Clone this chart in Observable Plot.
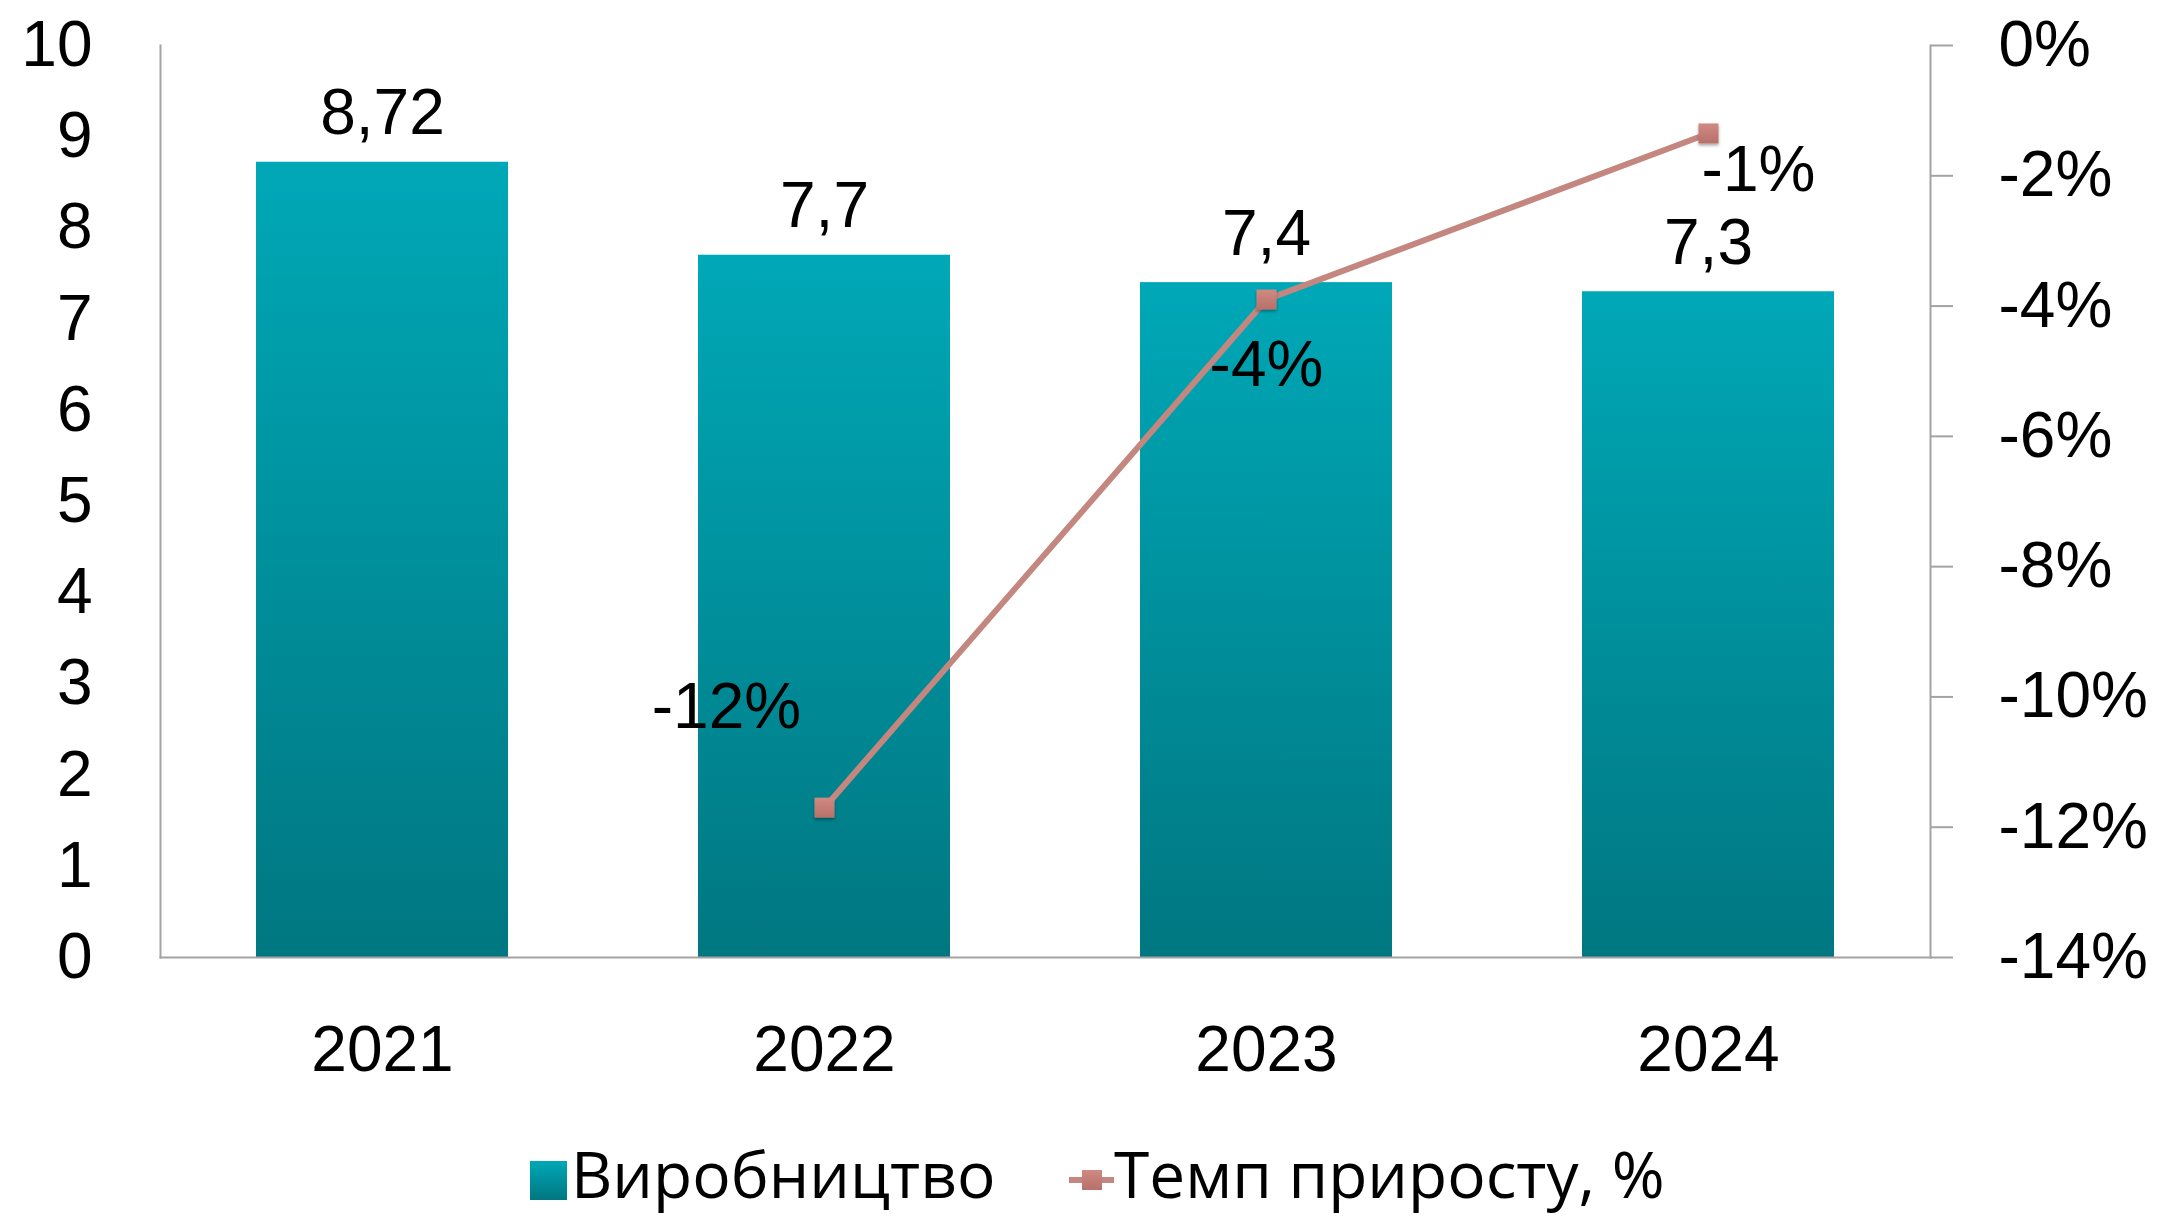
<!DOCTYPE html>
<html>
<head>
<meta charset="utf-8">
<script src="https://cdn.jsdelivr.net/npm/d3@7"></script>
<script src="https://cdn.jsdelivr.net/npm/@observablehq/plot@0.6"></script>
<style>
  html, body { margin: 0; padding: 0; background: #fff; }
  #wrap { width: 2159px; height: 1221px; overflow: hidden; position: relative; }
  #legend { position: relative; height: 101px; width: 2159px; font-family: "Open Sans", "Noto Sans", sans-serif; font-size: 63px; color: #000; }
  #legend .txt { position: absolute; line-height: 1; white-space: nowrap; }
</style>
</head>
<body>
<div id="wrap">
  <div id="chart"></div>
  <div id="legend"></div>
</div>
<script>
// ---- data ----
const years = ["2021", "2022", "2023", "2024"];
const production = [8.72, 7.7, 7.4, 7.3];
const growth = [null, -11.7, -3.9, -1.35];           // % growth rate
const leftTicks = [0, 1, 2, 3, 4, 5, 6, 7, 8, 9, 10];
const pctTicks = [0, -2, -4, -6, -8, -10, -12, -14];
const seriesNames = ["Виробництво", "Темп приросту, %"];

// label placement for the growth-rate labels (pixel offsets from point)
const growthLabelOffsets = [null, [-98, -100], [0, 66], [50, 37]];

// ---- styling ----
const barTop = "#00a8b7", barBottom = "#007781";
const lineColor = "#c4877f", markerColor = "#c27a72";
const axisColor = "#a3a3a3";

// secondary axis mapping: -14%..0%  ->  0..10
const pctMin = -14, pctMax = 0;
const toY = p => (p - pctMin) / (pctMax - pctMin) * 10;
const fromY = y => Math.round(y / 10 * (pctMax - pctMin) + pctMin);

const bars = years.map((y, i) => ({year: y, value: production[i]}));
const line = years.map((y, i) => ({year: y, pct: growth[i]})).filter(d => d.pct != null);
const fmtComma = v => String(v).replace(".", ",");

const labelMarks = years.map((y, i) => {
  if (growth[i] == null) return null;
  const [dx, dy] = growthLabelOffsets[i];
  return Plot.text([{year: y, pct: growth[i]}], {
    x: "year", y: d => toY(d.pct), text: d => Math.round(d.pct) + "%",
    dx, dy, textAnchor: "middle", lineAnchor: "middle", fill: "#000"
  });
}).filter(Boolean);

const chart = Plot.plot({
  width: 2159,
  height: 1120,
  marginTop: 45,
  marginBottom: 163,
  marginLeft: 160,
  marginRight: 229,
  style: {fontFamily: "'Liberation Sans', Arial, sans-serif", fontSize: "64px", color: "#000", background: "#fff", overflow: "visible"},
  x: {type: "band", domain: years, paddingInner: 0.43, paddingOuter: 0.215},
  y: {domain: [0, 10]},
  marks: [
    Plot.barY(bars, {x: "year", y: "value", fill: "url(#barGrad)"}),
    Plot.frame({anchor: "left", stroke: axisColor, strokeWidth: 2}),
    Plot.frame({anchor: "right", stroke: axisColor, strokeWidth: 2}),
    Plot.frame({anchor: "bottom", stroke: axisColor, strokeWidth: 2}),
    Plot.axisY({anchor: "left", ticks: leftTicks, tickSize: 0, tickPadding: 68, tickFormat: d => String(d), label: null}),
    Plot.axisY({anchor: "right", ticks: pctTicks.map(toY), tickSize: 22, tickPadding: 46, stroke: axisColor, strokeWidth: 2, tickFormat: t => fromY(t) + "%", label: null}),
    Plot.axisX({anchor: "bottom", tickSize: 0, tickPadding: 68, label: null}),
    Plot.text(bars, {x: "year", y: "value", text: d => fmtComma(d.value), dy: -28, lineAnchor: "bottom", fill: "#000"}),
    Plot.line(line, {x: "year", y: d => toY(d.pct), stroke: lineColor, strokeWidth: 6}),
    Plot.dot(line, {x: "year", y: d => toY(d.pct), symbol: "square", r: 11.3, fill: markerColor, stroke: "none"}),
    ...labelMarks
  ]
});

// gradient + shadow defs
const ns = "http://www.w3.org/2000/svg";
const defs = document.createElementNS(ns, "defs");
defs.innerHTML = `
  <linearGradient id="barGrad" x1="0" y1="0" x2="0" y2="1">
    <stop offset="0" stop-color="${barTop}"/>
    <stop offset="1" stop-color="${barBottom}"/>
  </linearGradient>
  <linearGradient id="mkGrad" x1="0" y1="0" x2="0" y2="1">
    <stop offset="0" stop-color="#d08a82"/>
    <stop offset="1" stop-color="#b8706a"/>
  </linearGradient>
  <filter id="shadow" x="-50%" y="-50%" width="200%" height="200%">
    <feDropShadow dx="0" dy="2" stdDeviation="1.5" flood-color="#000" flood-opacity="0.35"/>
  </filter>`;
chart.insertBefore(defs, chart.firstChild);
document.getElementById("chart").appendChild(chart);
// apply shadow + gradient to square markers
d3.select(chart).selectAll("g[aria-label='dot'] path").attr("fill", "url(#mkGrad)").attr("filter", "url(#shadow)");

// ---- legend ----
const legend = document.getElementById("legend");
legend.innerHTML = `
  <div style="position:absolute;left:530px;top:41px;width:37px;height:39px;background:linear-gradient(${barTop}, ${barBottom});"></div>
  <div class="txt" style="left:571px;top:22px;font-size:64px;">${seriesNames[0]}</div>
  <svg style="position:absolute;left:1067px;top:40px;" width="50" height="40">
    <defs><linearGradient id="mkGrad2" x1="0" y1="0" x2="0" y2="1"><stop offset="0" stop-color="#d08a82"/><stop offset="1" stop-color="#b8706a"/></linearGradient></defs>
    <line x1="2" y1="20" x2="47" y2="20" stroke="${lineColor}" stroke-width="6"/>
    <rect x="15" y="10" width="20" height="20" fill="url(#mkGrad2)"/>
  </svg>
  <div class="txt" style="left:1114px;top:22px;font-size:64px;">${seriesNames[1]}</div>`;
</script>
</body>
</html>
